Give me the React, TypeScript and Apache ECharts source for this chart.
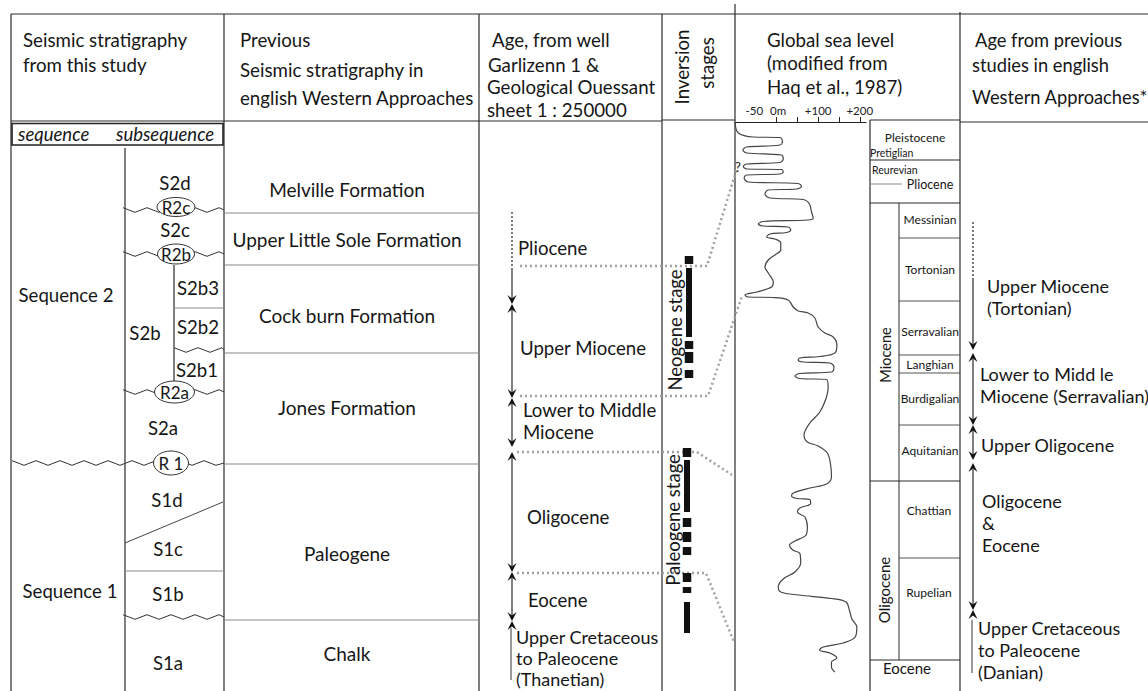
import React, { useEffect, useRef } from "react";
import * as echarts from "echarts";

// ---------- data ----------
// global sea level curve (modified from Haq et al., 1987): [time position, sea level m]
const seaLevelCurve: [number, number][] = [
  [0, -100], [11, -92], [15, -56], [15.5, 8], [19.5, 14], [23, 8], [25, -72], [28, -81], [31, -72],
  [33, 12], [37, 16], [40.5, 8], [42, -72], [44.5, -80], [47, -72], [47.5, 12], [50, 16], [52, 8],
  [53, -72], [56, -78], [60, -68], [61.5, 52], [64.5, 60], [67, 48], [68, -20], [72, -28], [76, -16],
  [77.5, 64], [82, 79], [90, 84], [96, 88], [98, 76], [99.5, -32], [102, -44], [104, -32], [105, 28],
  [108, 34], [110.5, 24], [112, -16], [115, -24], [117, -4], [121, 10], [128, 10], [133, -4], [138, -20],
  [145, -28], [151, -20], [160, -8], [165, -12], [170, -48], [173, -76], [175, -68], [175.5, -8],
  [178, 28], [185, 40], [189, 52], [191, 76], [196, 92], [205, 100], [211, 116], [215, 136], [223, 145],
  [231, 140], [234.5, 104], [236, 56], [238, 52], [240, 64], [241, 128], [245, 138], [250, 132],
  [251.5, 56], [254, 44], [256.5, 56], [257.5, 120], [265, 124], [275, 120], [290, 104], [301, 80],
  [313, 66], [320, 74], [324, 100], [331, 122], [343, 130], [355, 132], [362, 120], [366, 80], [371, 40],
  [374, 36], [376.5, 50], [377.5, 80], [381.5, 82], [386, 56], [390, 50], [395, 68], [405, 74], [413, 71],
  [419, 44], [423, 31], [428, 39], [431.5, 56], [441, 58], [450, 44], [457, 16], [465, 4], [470, 10],
  [473, 52], [476.5, 132], [480, 167], [488, 175], [497, 181], [505, 193], [515, 189], [521, 160],
  [525, 112], [528, 103], [531, 128], [536, 145], [540, 132], [545, 132], [550, 140],
];
const seaLevelTickValues = [0, 50, 100, 150, 200];
const seaLevelLabelValues = [-50, 0, 100, 200];

const headerCol1 = ["Seismic stratigraphy", "from this study"];
const headerCol2 = ["Previous", "Seismic stratigraphy in", "english Western Approaches"];
const headerCol3 = ["Age, from well", "Garlizenn 1 &", "Geological Ouessant", "sheet 1 : 250000"];
const headerCol4 = ["Inversion", "stages"];
const headerCol5 = ["Global sea level", "(modified from", "Haq et al., 1987)"];
const headerCol6 = ["Age from previous", "studies in english", "Western Approaches*"];

const subsequences = ["S2d", "S2c", "S2b3", "S2b2", "S2b", "S2b1", "S2a", "S1d", "S1c", "S1b", "S1a"];
const reflectors = ["R2c", "R2b", "R2a", "R 1"];
const sequences = ["Sequence 2", "Sequence 1"];
const formations = ["Melville Formation", "Upper Little Sole Formation", "Cock burn Formation", "Jones Formation", "Paleogene", "Chalk"];
const wellAges = ["Pliocene", "Upper Miocene", "Lower to Middle\nMiocene", "Oligocene", "Eocene", "Upper Cretaceous\nto Paleocene\n(Thanetian)"];
const inversionStages = ["Neogene stage", "Paleogene stage"];
const previousAges = ["Upper Miocene\n(Tortonian)", "Lower to Midd le\nMiocene (Serravalian)", "Upper Oligocene", "Oligocene\n&\nEocene", "Upper Cretaceous\nto Paleocene\n(Danian)"];
const epochs = ["Pleistocene", "Pliocene", "Miocene", "Oligocene", "Eocene"];
const miniStages = ["Pretiglian", "Reurevian"];
const mioceneStages = ["Messinian", "Tortonian", "Serravalian", "Langhian", "Burdigalian", "Aquitanian"];
const oligoceneStages = ["Chattian", "Rupelian"];

// ---------- layout ----------
const FONT = 'Lato, "Noto Sans", sans-serif';
const INK = "#161616";
const LINE = "#2a2a2a";
const GREY = "#8a8a8a";
const DOT = "#a0a0a0";
const HEAD = 18.7;
const BODY = 18.6;

const neogeneBars: [number, number][] = [[256, 264], [268, 337], [341, 349], [352, 363], [370, 378]];
const paleogeneBars: [number, number][] = [[448, 457], [460, 512], [518, 527], [532, 542], [547, 555], [573, 582], [587, 593], [602, 633]];

function tx(text: string, x: number, y: number, size = 17, align = "left", extra: any = {}, rotation = 0) {
  return {
    type: "text",
    x,
    y,
    rotation,
    style: {
      text,
      fill: INK,
      font: `${extra.italic ? "italic " : ""}${size}px ${FONT}`,
      textAlign: align,
      align,
      textVerticalAlign: "middle",
      verticalAlign: "middle",
      lineHeight: extra.lineHeight || size * 1.3,
    },
  };
}
function ln(x1: number, y1: number, x2: number, y2: number, stroke = LINE, lineWidth = 1.2, lineDash?: number[]) {
  return { type: "line", shape: { x1, y1, x2, y2 }, style: { stroke, lineWidth, lineDash } };
}
function pl(points: number[][], stroke = LINE, lineWidth = 1.2, lineDash?: number[]) {
  return { type: "polyline", shape: { points }, style: { stroke, lineWidth, lineDash, fill: null } };
}
function wave(x1: number, x2: number, y: number, period = 24, amp = 2.3) {
  const pts: number[][] = [];
  let up = true;
  for (let x = x1; x < x2; x += period / 2) {
    pts.push([x, y + (up ? -amp : amp)]);
    up = !up;
  }
  pts.push([x2, y]);
  return pl(pts, "#333", 1);
}
function ell(cx: number, cy: number, rx: number, ry: number, label: string) {
  return [
    { type: "ellipse", shape: { cx, cy, rx, ry }, style: { fill: "#fff", stroke: "#333", lineWidth: 1 } },
    tx(label, cx, cy, 17, "center"),
  ];
}
function arrowDown(x: number, y: number) {
  return { type: "polygon", shape: { points: [[x - 4.5, y - 9], [x, y], [x + 4.5, y - 9], [x, y - 5.5]] }, style: { fill: "#111" } };
}
function arrowUp(x: number, y: number) {
  return { type: "polygon", shape: { points: [[x - 4.5, y + 9], [x, y], [x + 4.5, y + 9], [x, y + 5.5]] }, style: { fill: "#111" } };
}
function bars(list: [number, number][], cx: number) {
  return list.map(([a, b]) => {
    const w = b - a > 20 ? 6 : 8.5;
    return { type: "rect", shape: { x: cx - w / 2, y: a, width: w, height: b - a }, style: { fill: "#111" } };
  });
}

function buildGraphic() {
  const g: any[] = [];
  // frame
  g.push(ln(11, 14, 1148, 14));
  g.push(ln(11, 14, 11, 691));
  g.push(ln(224, 14, 224, 691));
  g.push(ln(479, 14, 479, 691));
  g.push(ln(662, 14, 662, 691));
  g.push(ln(735, 4, 735, 691));
  g.push(ln(960, 12, 960, 691));
  g.push(ln(11, 121, 662, 121));
  g.push(ln(662, 120, 735, 120));
  g.push(ln(870, 120, 960, 120));
  g.push(ln(960, 122, 1148, 122));

  // headers
  headerCol1.forEach((t, i) => g.push(tx(t, 23, 40 + i * 25, HEAD)));
  const h2y = [40, 70, 98];
  headerCol2.forEach((t, i) => g.push(tx(t, 240, h2y[i], HEAD)));
  const h3 = [[492, 40], [488, 65], [487, 87], [487, 110]];
  headerCol3.forEach((t, i) => g.push(tx(t, h3[i][0], h3[i][1], HEAD)));
  g.push(tx(headerCol4[0], 682, 67, HEAD, "center", {}, Math.PI / 2));
  g.push(tx(headerCol4[1], 707, 63, HEAD, "center", {}, Math.PI / 2));
  const h5y = [40, 63, 87];
  headerCol5.forEach((t, i) => g.push(tx(t, 767, h5y[i], HEAD)));
  const h6 = [[975, 40], [972, 65], [972, 97]];
  headerCol6.forEach((t, i) => g.push(tx(t, h6[i][0], h6[i][1], 18.3)));

  // column 1: seismic stratigraphy
  g.push({ type: "rect", shape: { x: 12, y: 123.5, width: 211, height: 21.5 }, style: { fill: "none", stroke: "#222", lineWidth: 1.6 } });
  g.push(tx("sequence", 18, 134, 18.5, "left", { italic: true }));
  g.push(tx("subsequence", 116, 134, 18.5, "left", { italic: true }));
  g.push(ln(125, 148, 125, 691));
  g.push(ln(174, 265, 174, 382));
  g.push(ln(174, 308, 224, 308, GREY, 1));
  g.push(ln(125, 571, 224, 571, GREY, 1));
  g.push(ln(125, 543, 223, 502, "#444", 1));
  g.push(wave(123, 224, 210));
  g.push(wave(123, 224, 254));
  g.push(wave(174, 224, 350));
  g.push(wave(123, 224, 392));
  g.push(wave(12, 224, 463));
  g.push(wave(123, 224, 617));
  const subPos = [[175, 183], [175, 230], [198, 288], [198, 327], [145, 333], [197, 370], [163, 428], [167, 500], [168, 549], [168, 594], [168, 663]];
  subsequences.forEach((t, i) => g.push(tx(t, subPos[i][0], subPos[i][1], BODY, "center")));
  const refPos = [[176, 207, 19, 9.5], [176, 254, 18.5, 10], [174.5, 392, 20, 11], [171, 463, 17.5, 12]];
  reflectors.forEach((t, i) => g.push(...ell(refPos[i][0], refPos[i][1], refPos[i][2], refPos[i][3], t)));
  const seqPos = [[66, 295], [70, 591]];
  sequences.forEach((t, i) => g.push(tx(t, seqPos[i][0], seqPos[i][1], BODY, "center")));

  // column 2: formations
  [213, 265, 353, 464, 620].forEach((y) => g.push(ln(225, y, 479, y, GREY, 1)));
  const formY = [189, 239, 315, 407, 553, 653];
  formations.forEach((t, i) => g.push(tx(t, 347, formY[i], 19, "center")));

  // column 3: well ages
  const X3 = 512;
  g.push(ln(X3, 212, X3, 268, "#222", 1.2, [2, 2]));
  g.push(ln(X3, 268, X3, 299));
  g.push(arrowDown(X3, 304), arrowUp(X3, 304));
  g.push(ln(X3, 309, X3, 393));
  g.push(arrowDown(X3, 398), arrowUp(X3, 398));
  g.push(ln(X3, 403, X3, 442));
  g.push(arrowDown(X3, 447), arrowUp(X3, 452));
  g.push(ln(X3, 457, X3, 567));
  g.push(arrowDown(X3, 572), arrowUp(X3, 572));
  g.push(ln(X3, 577, X3, 616));
  g.push(arrowDown(X3, 621), arrowUp(X3, 621));
  g.push(ln(511, 628, 511, 680, "#333", 1));
  const wellPos = [[518, 248], [520, 348], [523, 421], [527, 517], [528, 600], [516, 658]];
  wellAges.forEach((t, i) => g.push(tx(t, wellPos[i][0], wellPos[i][1], i === 5 ? 18 : BODY, "left", { lineHeight: i === 5 ? 21 : 22 })));

  // dotted correlation lines
  g.push(pl([[520, 266], [707, 266], [737, 168]], DOT, 2.5, [2, 3]));
  g.push(pl([[520, 396], [708, 396], [742, 296]], DOT, 2.5, [2, 3]));
  g.push(pl([[517, 452], [697, 452], [732, 475]], DOT, 2.5, [2, 3]));
  g.push(pl([[517, 573], [706, 573], [734, 642]], DOT, 2.5, [2, 3]));

  // column 4: inversion stages
  g.push(...bars(neogeneBars, 689));
  g.push(...bars(paleogeneBars, 687));
  g.push(tx(inversionStages[0], 675, 330, 18.5, "center", {}, Math.PI / 2));
  g.push(tx(inversionStages[1], 673, 520, 18.5, "center", {}, Math.PI / 2));

  // column 5: sea level / stages
  g.push(tx("?", 738, 167, 13, "center"));
  g.push(ln(870, 120, 870, 691));
  [160, 203, 481, 660].forEach((y) => g.push(ln(870, y, 960, y)));
  g.push(ln(899, 203, 899, 660, LINE, 1));
  [238, 301, 355, 373, 425, 558].forEach((y) => g.push(ln(899, y, 960, y, "#555", 1)));
  g.push(ln(870, 184, 902, 184, GREY, 1));
  g.push(tx(epochs[0], 915, 137, 12, "center"));
  g.push(tx(miniStages[0], 870, 153, 10.5, "left"));
  g.push(tx(miniStages[1], 872, 170, 10.5, "left"));
  g.push(tx(epochs[1], 930, 184, 12.5, "center"));
  g.push(tx(epochs[2], 885, 355, 14.5, "center", {}, Math.PI / 2));
  g.push(tx(epochs[3], 884, 590, 15, "center", {}, Math.PI / 2));
  g.push(tx(epochs[4], 907, 668, 15, "center"));
  const mioY = [219, 269, 331, 364, 398, 450];
  mioceneStages.forEach((t, i) => g.push(tx(t, 930, mioY[i], 12, "center")));
  const oliY = [510, 592];
  oligoceneStages.forEach((t, i) => g.push(tx(t, 929, oliY[i], 12, "center")));

  // column 6: previous ages
  const X6 = 973;
  g.push(ln(X6, 222, X6, 280, "#222", 1.2, [2, 2]));
  g.push(ln(X6, 280, X6, 345));
  g.push(arrowDown(X6, 350), arrowUp(X6, 353));
  g.push(ln(X6, 358, X6, 420));
  g.push(arrowDown(X6, 425), arrowUp(X6, 425));
  g.push(ln(X6, 430, X6, 455));
  g.push(arrowDown(X6, 460), arrowUp(X6, 463));
  g.push(ln(X6, 468, X6, 605));
  g.push(arrowDown(X6, 610), arrowUp(X6, 610));
  g.push(ln(972, 620, 972, 673, "#333", 1));
  const prevPos = [[987, 297], [980, 385], [981, 445], [982, 523], [978, 650]];
  previousAges.forEach((t, i) => g.push(tx(t, prevPos[i][0], prevPos[i][1], 18, "left", { lineHeight: 22 })));

  return g;
}

export default function App() {
  const ref = useRef<HTMLDivElement>(null);
  useEffect(() => {
    document.body.style.margin = "0";
    document.body.style.overflow = "hidden";
    if (!ref.current) return;
    const chart = echarts.init(ref.current, null, { renderer: "svg" });
    chart.setOption({
      animation: false,
      backgroundColor: "#fff",
      grid: { left: 735, top: 122, width: 131, height: 569, containLabel: false },
      xAxis: {
        type: "value",
        position: "top",
        min: -100,
        max: 215,
        interval: 50,
        axisLine: { show: true, lineStyle: { color: "#222", width: 1.2 } },
        axisTick: { show: true, length: 5, customValues: seaLevelTickValues, lineStyle: { color: "#222" } },
        axisLabel: {
          show: true,
          customValues: seaLevelLabelValues,
          margin: 6,
          fontSize: 11.5,
          color: "#222",
          fontFamily: FONT,
          formatter: (v: number) => (v === 0 ? " 0m" : v > 0 ? "+" + v : String(v) + " "),
        },
        splitLine: { show: false },
      },
      yAxis: { type: "value", inverse: true, min: 0, max: 569, show: false, splitLine: { show: false } },
      series: [
        {
          type: "line",
          data: seaLevelCurve.map(([t, m]) => [m, t]),
          smooth: 0.35,
          symbol: "none",
          lineStyle: { color: "#444", width: 1.2 },
          clip: false,
        },
      ],
      graphic: buildGraphic(),
    });
    return () => chart.dispose();
  }, []);
  return <div ref={ref} style={{ width: 1148, height: 691, background: "#fff" }} />;
}
